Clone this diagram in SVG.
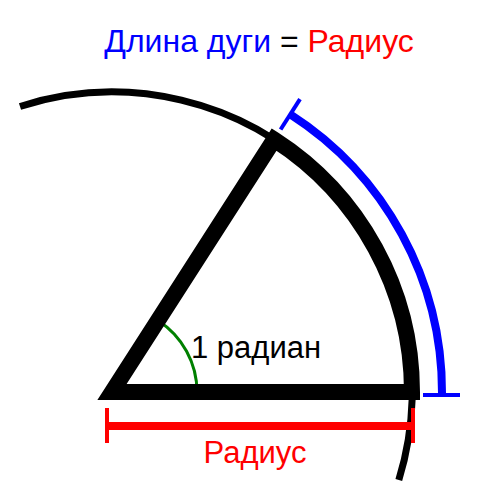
<svg xmlns="http://www.w3.org/2000/svg" width="500" height="500" viewBox="0 0 500 500">
  <style>
    .txt { font-family: "Liberation Sans", Arial, sans-serif; }
    .thin { fill: none; stroke: #000; stroke-width: 7; }
    .sector { fill: none; stroke: #000; stroke-width: 16; stroke-linejoin: miter; stroke-miterlimit: 10; }
    .blue { fill: none; stroke: #0000FF; }
    .red { fill: none; stroke: #FF0000; }
    .green { fill: none; stroke: #008000; stroke-width: 3; }
  </style>
  <rect width="500" height="500" fill="#fff"/>
  <g id="circle">
    <path class="thin" d="M 20 106.5 A 300 300 0 0 1 398.8 480"/>
  </g>
  <g id="angle">
    <path class="green" d="M 197 392 A 85 85 0 0 0 157.9 320.5"/>
  </g>
  <g id="sector">
    <path class="sector" d="M 112 392 L 412 392 A 300 300 0 0 0 274.1 139.6 Z"/>
  </g>
  <g id="arc-length">
    <path class="blue" stroke-width="8" d="M 442 393 A 330 330 0 0 0 290.3 114.3"/>
    <line class="blue" stroke-width="4" x1="423" y1="395" x2="460" y2="395"/>
    <line class="blue" stroke-width="4" x1="280.6" y1="129.5" x2="300" y2="99.2"/>
  </g>
  <g id="radius">
    <line class="red" stroke-width="8" x1="107" y1="426" x2="413" y2="426"/>
    <line class="red" stroke-width="4" x1="107" y1="408" x2="107" y2="443"/>
    <line class="red" stroke-width="4" x1="413" y1="408" x2="413" y2="443"/>
  </g>
  <g id="labels">
    <text class="txt" x="259" y="52" font-size="32" text-anchor="middle"><tspan fill="#0000FF">Длина дуги</tspan><tspan fill="#000"> = </tspan><tspan fill="#FF0000">Радиус</tspan></text>
    <text class="txt" x="191" y="358" font-size="31" fill="#000">1 радиан</text>
    <text class="txt" x="255" y="463" font-size="31" fill="#FF0000" text-anchor="middle">Радиус</text>
  </g>
</svg>
